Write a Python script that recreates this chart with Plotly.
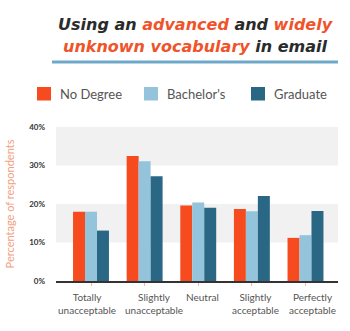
import plotly.graph_objects as go

categories = ["Totally<br>unacceptable", "Slightly<br>unacceptable", "Neutral",
              "Slightly<br>acceptable", "Perfectly<br>acceptable"]
no_degree = [18.0, 32.5, 19.6, 18.7, 11.2]
bachelors = [18.0, 31.1, 20.4, 18.1, 11.9]
graduate = [13.1, 27.2, 19.0, 22.1, 18.2]
y_ticks = [0, 10, 20, 30, 40]
y_tick_labels = ["0%", "10%", "20%", "30%", "40%"]

W, H = 350, 331
ML, MR, MT, MB = 56, 12, 127, 50
pw = W - ML - MR
ph = H - MT - MB


def px_x(x):
    return (x - ML) / pw


def px_y(y):
    return (H - MB - y) / ph


series = [
    ("No Degree", no_degree, "#f64b1f"),
    ("Bachelor's", bachelors, "#93c4dc"),
    ("Graduate", graduate, "#2a6784"),
]

fig = go.Figure()
for name, vals, color in series:
    fig.add_trace(go.Bar(x=categories, y=vals, name=name, showlegend=False,
                         marker=dict(color=color, line=dict(width=0))))

# alternating light bands behind the bars
shapes = []
for lo, hi in [(10, 20), (30, 40)]:
    shapes.append(dict(type="rect", xref="paper", yref="y", x0=0, x1=1, y0=lo, y1=hi,
                       fillcolor="#f1f1f1", line=dict(width=0), layer="below"))
# underline under the heading
shapes.append(dict(type="line", xref="paper", yref="paper",
                   x0=px_x(52), x1=px_x(338), y0=px_y(62), y1=px_y(62),
                   line=dict(color="#6ea9c9", width=3)))

orange = "#f0532a"
dark = "#2b2b2b"
title1 = (f"<span style='color:{dark}'>Using an </span>"
          f"<span style='color:{orange}'>advanced</span>"
          f"<span style='color:{dark}'> and </span>"
          f"<span style='color:{orange}'>widely</span>")
title2 = (f"<span style='color:{orange}'>unknown vocabulary</span>"
          f"<span style='color:{dark}'> in email</span>")

title_font = dict(family="DejaVu Sans", size=16, color=dark, weight="bold", style="italic")
annotations = [
    dict(text=title1, xref="paper", yref="paper", x=px_x(195), y=px_y(24),
         showarrow=False, xanchor="center", yanchor="middle", font=title_font),
    dict(text=title2, xref="paper", yref="paper", x=px_x(195), y=px_y(46),
         showarrow=False, xanchor="center", yanchor="middle", font=title_font),
]

# legend row: a colour swatch and the series name for each series
legend_x = [37, 144, 251]
for (name, _, color), lx in zip(series, legend_x):
    shapes.append(dict(type="rect", xref="paper", yref="paper",
                       x0=px_x(lx), x1=px_x(lx + 14), y0=px_y(100.5), y1=px_y(87),
                       fillcolor=color, line=dict(width=0)))
    annotations.append(dict(text=name, xref="paper", yref="paper",
                            x=px_x(lx + 21), y=px_y(94), showarrow=False,
                            xanchor="left", yanchor="middle",
                            font=dict(family="Lato", size=13, color="#555555")))

# category labels under the axis, nudged sideways so neighbours do not collide
label_shift = [-4, 9, 4, 4, 7]
for cat, dx in zip(categories, label_shift):
    annotations.append(dict(text=cat, xref="x", yref="paper", x=cat, y=0,
                            yshift=-8, xshift=dx, showarrow=False,
                            xanchor="center", yanchor="top",
                            font=dict(family="Lato", size=10, color="#555555")))

fig.update_layout(
    width=W, height=H,
    margin=dict(l=ML, r=MR, t=MT, b=MB, pad=0, autoexpand=False),
    paper_bgcolor="white", plot_bgcolor="white",
    barmode="group", bargap=0.33, bargroupgap=0,
    font=dict(family="Lato", color="#555555"),
    shapes=shapes, annotations=annotations, showlegend=False,
    xaxis=dict(showline=True, linecolor="#333333", linewidth=2,
               ticks="outside", ticklen=3, tickcolor="#f4b9a3", tickwidth=1,
               tickangle=0, automargin=False, showticklabels=False,
               showgrid=False, fixedrange=True),
    yaxis=dict(range=[0, 40], tickvals=y_ticks, ticktext=y_tick_labels,
               showgrid=False, zeroline=False, showline=False, automargin=False,
               tickfont=dict(size=8, color="#333333", weight="bold"),
               ticklabelstandoff=10,
               title=dict(text="Percentage of respondents", standoff=12,
                          font=dict(size=11, color="#f2a07e")),
               fixedrange=True),
)

fig.write_html("out.html")
